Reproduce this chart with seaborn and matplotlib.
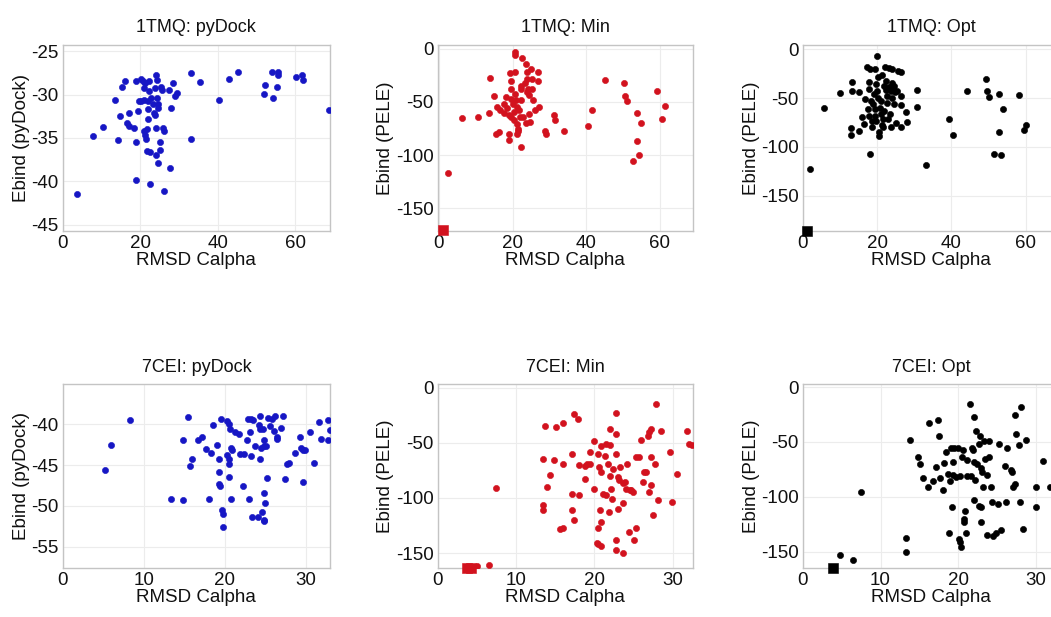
import numpy as np
import pandas as pd
import matplotlib
matplotlib.use("Agg")
import matplotlib.pyplot as plt
import seaborn as sns

sns.set_theme(style="whitegrid")
plt.rcParams["font.family"] = ["Liberation Sans", "DejaVu Sans"]
plt.rcParams["axes.unicode_minus"] = False

# ---------------- 1TMQ ----------------
tmq_pydock_rmsd = [3.6, 7.9, 10.4, 13.6, 14.3, 14.9, 15.3, 16.2, 16.7, 17.2, 17.2, 18.4, 19.0, 19.0,
                   19.0, 19.4, 19.6, 20.3, 20.3, 20.7, 20.9, 21.1, 21.3, 21.1, 21.3, 21.5, 21.7, 21.8,
                   22.2, 22.2, 22.1, 22.0, 22.1, 22.4, 22.6, 22.8, 23.2, 23.5, 23.7, 23.8, 24.1, 24.3,
                   24.1, 24.2, 24.4, 24.5, 24.5, 24.7, 25.0, 25.2, 25.4, 25.8, 26.1, 25.6, 26.2, 27.5,
                   27.9, 27.8, 28.4, 29.0, 29.4, 33.1, 33.1, 35.5, 40.3, 42.9, 45.2, 51.9, 52.3, 54.0,
                   54.4, 55.3, 55.5, 55.7, 60.3, 61.7, 62.1, 68.8]
tmq_pydock_ebind = [-41.4, -34.8, -33.7, -30.6, -35.2, -32.5, -29.1, -28.4, -33.3, -32.1, -33.6, -33.8,
                    -28.4, -35.5, -39.8, -31.9, -30.8, -28.2, -30.8, -28.5, -29.2, -30.6, -28.7, -34.2,
                    -34.7, -35.1, -34.0, -36.5, -28.4, -29.6, -30.8, -31.7, -32.8, -36.6, -40.3, -30.4,
                    -31.1, -32.1, -32.3, -29.2, -27.7, -28.3, -33.8, -37.0, -30.4, -31.1, -31.5, -37.9,
                    -36.4, -35.5, -29.1, -33.8, -41.1, -29.5, -34.2, -29.5, -31.5, -38.4, -28.7, -30.2,
                    -29.8, -27.5, -35.1, -28.6, -30.6, -28.2, -27.4, -29.9, -28.9, -27.4, -30.4, -29.1,
                    -27.4, -27.7, -28.0, -27.7, -28.3, -31.8]

tmq_min_rmsd = [2.4, 6.4, 10.6, 13.7, 14.0, 14.9, 15.7, 15.4, 16.3, 16.7, 17.6, 17.7, 18.2, 18.6, 19.1,
                19.1, 19.1, 19.3, 19.5, 19.5, 19.7, 19.7, 20.2, 20.4, 20.4, 20.6, 20.8, 20.8, 20.6, 20.9,
                21.1, 21.3, 21.4, 21.5, 21.1, 21.8, 22.0, 22.2, 22.2, 22.4, 22.4, 22.7, 22.9, 23.3, 23.6,
                23.6, 23.8, 23.8, 24.0, 24.3, 24.5, 24.5, 24.7, 25.0, 25.2, 25.4, 25.6, 26.1, 26.8, 27.0,
                27.1, 28.8, 29.2, 31.3, 31.5, 34.0, 40.4, 41.7, 45.2, 50.3, 50.5, 51.0, 53.7, 55.0, 53.7,
                54.4, 52.8, 59.1, 60.7, 61.4]
tmq_min_ebind = [-117, -65, -64, -60, -27.5, -44, -55, -80, -78, -58, -60, -52, -45, -56, -62, -80, -86,
                 -23, -30, -37.5, -47, -64, -52, -59, -67, -3, -6, -22, -42, -48, -55, -71, -77, -75,
                 -80, -58, -64, -92, -35, -38, -48, -8.5, -64, -32, -70, -14, -40.6, -22, -28, -37.5,
                 -43, -61, -69, -19, -28, -38, -48, -58, -22, -30, -55, -77, -80, -62, -67, -77, -73,
                 -58, -29, -32, -44, -49, -60, -70, -87, -100, -106, -40, -66, -54]

tmq_opt_rmsd = [2.0, 5.6, 10.1, 13.2, 13.2, 13.0, 13.0, 15.0, 15.2, 15.9, 16.4, 16.8, 17.3, 17.5, 17.7,
                17.7, 17.7, 18.0, 18.2, 18.4, 18.5, 18.6, 18.9, 19.1, 19.4, 19.4, 19.4, 19.7, 19.7, 20.0,
                20.0, 20.2, 20.3, 20.5, 20.5, 20.7, 20.9, 20.9, 21.2, 21.4, 21.6, 21.6, 21.8, 21.8, 22.0,
                22.3, 22.5, 22.7, 22.7, 22.9, 23.2, 23.2, 23.4, 23.6, 23.6, 23.9, 23.9, 24.1, 24.3, 24.5,
                24.5, 24.8, 25.0, 25.4, 25.7, 26.3, 26.3, 26.3, 26.5, 27.9, 28.1, 30.8, 30.8, 33.1, 39.4,
                40.5, 44.1, 49.3, 49.5, 50.2, 51.5, 52.9, 52.9, 53.3, 53.8, 58.3, 59.6, 60.1]
tmq_opt_ebind = [-123, -60, -45, -33.4, -42.7, -81, -88, -44, -84, -69, -76, -51, -18, -61, -68, -34,
                 -41, -107.5, -20.5, -53, -73, -80, -56, -46, -20.5, -61, -68, -73, -36, -7, -43, -49.5,
                 -28, -85, -89, -60, -53, -66.5, -77, -26, -71, -79.5, -37.5, -63, -18, -42, -32, -48,
                 -55, -71, -19, -39, -66.5, -43, -80, -20.5, -35, -49.5, -40, -37.5, -56, -44, -75, -43,
                 -22, -23, -48, -80, -57, -64, -74, -42, -59, -118, -71, -88, -43, -30, -43, -49,
                 -107.5, -46, -85, -108, -61, -47, -83, -77.5]

tmq_native_rmsd = [1.0]
tmq_native_min = [-171.0]
tmq_native_opt = [-186.0]

# ---------------- 7CEI ----------------
cei_pydock_rmsd = [5.2, 6.0, 8.3, 13.4, 14.8, 14.8, 15.5, 15.7, 16.0, 16.7, 17.2, 17.7, 18.3, 18.5, 18.1,
                   19.0, 19.3, 19.3, 19.3, 19.4, 19.6, 19.7, 19.8, 19.8, 20.3, 20.5, 20.3, 20.5, 20.5,
                   20.5, 20.7, 20.8, 20.9, 20.8, 21.3, 21.8, 21.9, 22.2, 22.4, 22.7, 22.9, 23.0, 23.1,
                   23.2, 23.3, 23.4, 23.5, 23.7, 24.1, 24.2, 24.4, 24.4, 24.4, 24.5, 24.6, 24.7, 24.8,
                   24.8, 24.9, 24.9, 25.0, 25.1, 24.8, 25.2, 25.4, 25.6, 25.8, 26.1, 26.2, 26.4, 26.5,
                   27.0, 27.2, 27.4, 27.7, 27.9, 28.7, 29.3, 29.4, 29.7, 29.7, 29.9, 30.5, 31.0, 31.6,
                   31.9, 32.8, 32.8, 33.0]
cei_pydock_ebind = [-45.6, -42.5, -39.5, -49.1, -49.3, -41.9, -39.1, -45.1, -44.2, -41.9, -41.6, -43.0,
                    -43.5, -40.1, -49.1, -42.5, -44.3, -45.9, -47.3, -47.6, -39.3, -50.5, -51.0, -52.6,
                    -39.6, -40.0, -43.7, -44.3, -44.8, -46.5, -40.6, -42.9, -43.2, -49.1, -41.0, -41.2,
                    -43.6, -47.6, -43.6, -41.9, -39.3, -49.1, -41.0, -43.9, -39.3, -51.3, -39.5, -42.7,
                    -51.4, -40.1, -40.6, -39.0, -44.2, -42.9, -50.8, -40.6, -51.7, -51.9, -41.9, -42.7,
                    -49.6, -42.6, -48.4, -46.6, -39.2, -40.2, -39.4, -40.8, -39.0, -41.8, -41.6, -40.4,
                    -39.0, -46.7, -44.8, -44.7, -43.5, -41.6, -42.9, -43.1, -47.1, -43.2, -41.0, -44.7,
                    -39.7, -41.8, -39.5, -41.9, -40.7]

cei_min_rmsd = [5.0, 6.5, 7.5, 13.5, 13.4, 13.4, 13.7, 14.0, 14.3, 14.8, 15.1, 15.6, 16.0, 16.0, 16.0,
                17.1, 17.1, 17.2, 17.4, 17.9, 17.4, 18.1, 18.1, 18.8, 18.8, 19.1, 19.4, 19.4, 19.9, 20.0,
                20.3, 20.5, 20.5, 20.5, 20.6, 20.7, 20.8, 20.8, 20.8, 20.9, 21.1, 21.3, 21.5, 21.5, 21.7,
                21.9, 22.0, 22.0, 22.0, 22.1, 22.2, 22.4, 22.7, 22.7, 22.8, 22.8, 22.8, 23.0, 23.0, 23.2,
                23.3, 23.6, 23.6, 23.6, 23.9, 24.1, 24.2, 24.4, 24.5, 24.7, 24.9, 25.1, 25.3, 25.3, 25.7,
                26.0, 26.2, 26.3, 26.6, 26.8, 27.0, 27.0, 27.2, 27.2, 27.2, 27.5, 27.7, 27.9, 28.1, 28.5,
                29.7, 29.9, 30.6, 31.8, 32.1, 32.5]
cei_min_ebind = [-162, -161, -91, -64.6, -106.6, -111, -34.5, -90, -79.6, -66, -35.4, -128.5, -127.6,
                 -69, -32.4, -60, -96, -111, -24.3, -28, -120, -69.7, -97.6, -82.6, -70.6, -69, -69,
                 -58.6, -48, -91.6, -140.5, -142, -127.6, -60, -71.5, -111, -144, -76.6, -52.6, -121.6,
                 -96, -61.6, -51, -97.6, -69, -112.6, -51.6, -37.5, -80.5, -91.6, -100.6, -73.6, -60,
                 -23.4, -42, -138, -147, -81, -109.6, -83.5, -72, -86.5, -105, -150, -85.6, -91.6, -69,
                 -130.6, -92.5, -93, -94.6, -138, -63, -127.6, -63, -47.4, -85.6, -76.6, -76.6, -43.5,
                 -40.5, -94.6, -62.5, -37.5, -88.6, -115.6, -69, -15, -102, -39, -58.6, -103.6, -78,
                 -39, -51, -51.6]

cei_opt_rmsd = [4.8, 6.4, 7.5, 13.3, 13.3, 13.8, 14.8, 15.1, 15.5, 16.1, 16.2, 16.7, 17.1, 17.4, 17.5,
                17.7, 18.0, 18.2, 18.5, 18.7, 18.8, 19.0, 19.1, 19.2, 19.3, 19.4, 19.5, 19.7, 20.0, 20.1,
                20.2, 20.3, 20.4, 20.5, 20.6, 20.7, 20.8, 20.9, 21.0, 21.1, 21.2, 21.5, 21.7, 21.8, 21.9,
                22.0, 22.1, 22.1, 22.2, 22.3, 22.4, 22.7, 22.7, 22.8, 22.9, 23.0, 23.0, 23.1, 23.2, 23.3,
                23.5, 23.7, 23.7, 24.0, 24.0, 24.2, 24.4, 24.5, 24.9, 25.1, 25.3, 25.5, 26.0, 26.2, 26.3,
                26.8, 27.0, 27.1, 27.3, 27.3, 27.4, 27.9, 28.0, 28.1, 28.3, 28.7, 30.0, 30.1, 30.9, 31.8]
cei_opt_ebind = [-153, -157.6, -95.5, -138, -150, -48.5, -64, -70, -83, -91, -32.7, -86, -72.7, -30, -45,
                 -83, -94, -69, -59, -79, -133, -86, -56, -109.7, -80, -68, -56, -82, -56, -139, -81,
                 -141, -145.5, -64, -57.6, -122.7, -120.6, -112.7, -133, -81, -66.7, -15.8, -81, -55.5,
                 -57.6, -27.3, -68, -103, -85, -40, -70, -108.5, -51.5, -45, -74, -109, -122.7, -77, -91,
                 -49, -66, -80, -135, -49, -63.6, -91, -104.5, -135.7, -133, -106.7, -51.5, -130, -72,
                 -104.5, -56, -75.8, -77, -91, -88, -25.8, -42.4, -53, -104.5, -18.2, -129.7, -48.5,
                 -109.7, -91.5, -67.3, -91]

cei_native_min_rmsd = [3.8, 4.3]
cei_native_min = [-163.5, -163.5]
cei_native_opt_rmsd = [3.9]
cei_native_opt = [-165.0]

# ---------------- panel layout ----------------
titles = ["1TMQ: pyDock", "1TMQ: Min", "1TMQ: Opt", "7CEI: pyDock", "7CEI: Min", "7CEI: Opt"]
ylabels = ["Ebind (pyDock)", "Ebind (PELE)", "Ebind (PELE)",
           "Ebind (pyDock)", "Ebind (PELE)", "Ebind (PELE)"]
xlabel = "RMSD Calpha"

BLUE = "#1616c4"
RED = "#d2121e"
BLACK = "#000000"

panels = [
    dict(x=tmq_pydock_rmsd, y=tmq_pydock_ebind, c=BLUE, nx=None, ny=None,
         xlim=(0, 69), ylim=(-45.7, -24.3), xt=[0, 20, 40, 60], yt=[-45, -40, -35, -30, -25],
         rect=[0.0597, 0.6256, 0.2543, 0.3015]),
    dict(x=tmq_min_rmsd, y=tmq_min_ebind, c=RED, nx=tmq_native_rmsd, ny=tmq_native_min,
         xlim=(-0.3, 69), ylim=(-171.5, 3.7), xt=[0, 20, 40, 60], yt=[-150, -100, -50, 0],
         rect=[0.4165, 0.6256, 0.2429, 0.3015]),
    dict(x=tmq_opt_rmsd, y=tmq_opt_ebind, c=BLACK, nx=tmq_native_rmsd, ny=tmq_native_opt,
         xlim=(0, 69), ylim=(-186, 4.4), xt=[0, 20, 40, 60], yt=[-150, -100, -50, 0],
         rect=[0.7640, 0.6256, 0.2436, 0.3015]),
    dict(x=cei_pydock_rmsd, y=cei_pydock_ebind, c=BLUE, nx=None, ny=None,
         xlim=(0, 33), ylim=(-57.6, -35.1), xt=[0, 10, 20, 30], yt=[-55, -50, -45, -40],
         rect=[0.0597, 0.0794, 0.2543, 0.2977]),
    dict(x=cei_min_rmsd, y=cei_min_ebind, c=RED, nx=cei_native_min_rmsd, ny=cei_native_min,
         xlim=(0, 32.6), ylim=(-163.5, 3.0), xt=[0, 10, 20, 30], yt=[-150, -100, -50, 0],
         rect=[0.4165, 0.0794, 0.2429, 0.2977]),
    dict(x=cei_opt_rmsd, y=cei_opt_ebind, c=BLACK, nx=cei_native_opt_rmsd, ny=cei_native_opt,
         xlim=(0, 33), ylim=(-165, 2.5), xt=[0, 10, 20, 30], yt=[-150, -100, -50, 0],
         rect=[0.7640, 0.0794, 0.2436, 0.2977]),
]

fig = plt.figure(figsize=(10.51, 6.17), dpi=100)
fig.patch.set_facecolor("white")

for i, p in enumerate(panels):
    ax = fig.add_axes(p["rect"])
    df = pd.DataFrame({"rmsd": p["x"], "ebind": p["y"]})
    sns.scatterplot(data=df, x="rmsd", y="ebind", ax=ax, color=p["c"], s=20,
                    edgecolor=p["c"], linewidth=0.4, zorder=3)
    if p["nx"] is not None:
        ndf = pd.DataFrame({"rmsd": p["nx"], "ebind": p["ny"]})
        sns.scatterplot(data=ndf, x="rmsd", y="ebind", ax=ax, color=p["c"], marker="s",
                        s=50, edgecolor=p["c"], linewidth=0.4, zorder=4, clip_on=False)
    ax.set_xlim(*p["xlim"])
    ax.set_ylim(*p["ylim"])
    ax.set_xticks(p["xt"])
    ax.set_yticks(p["yt"])
    ax.set_facecolor("white")
    ax.grid(True, color="#ececec", linewidth=0.8)
    for sp in ax.spines.values():
        sp.set_color("#c4c4c4")
        sp.set_linewidth(1.0)
    ax.tick_params(length=0, pad=3, labelsize=13.5, colors="#111111")
    ax.set_title(titles[i], fontsize=13, pad=9, color="#111111")
    ax.set_xlabel(xlabel, fontsize=13.5, labelpad=0, color="#111111")
    ax.set_ylabel(ylabels[i], fontsize=13.5, labelpad=1, color="#111111")

fig.savefig("out.png", dpi=100, facecolor="white")
